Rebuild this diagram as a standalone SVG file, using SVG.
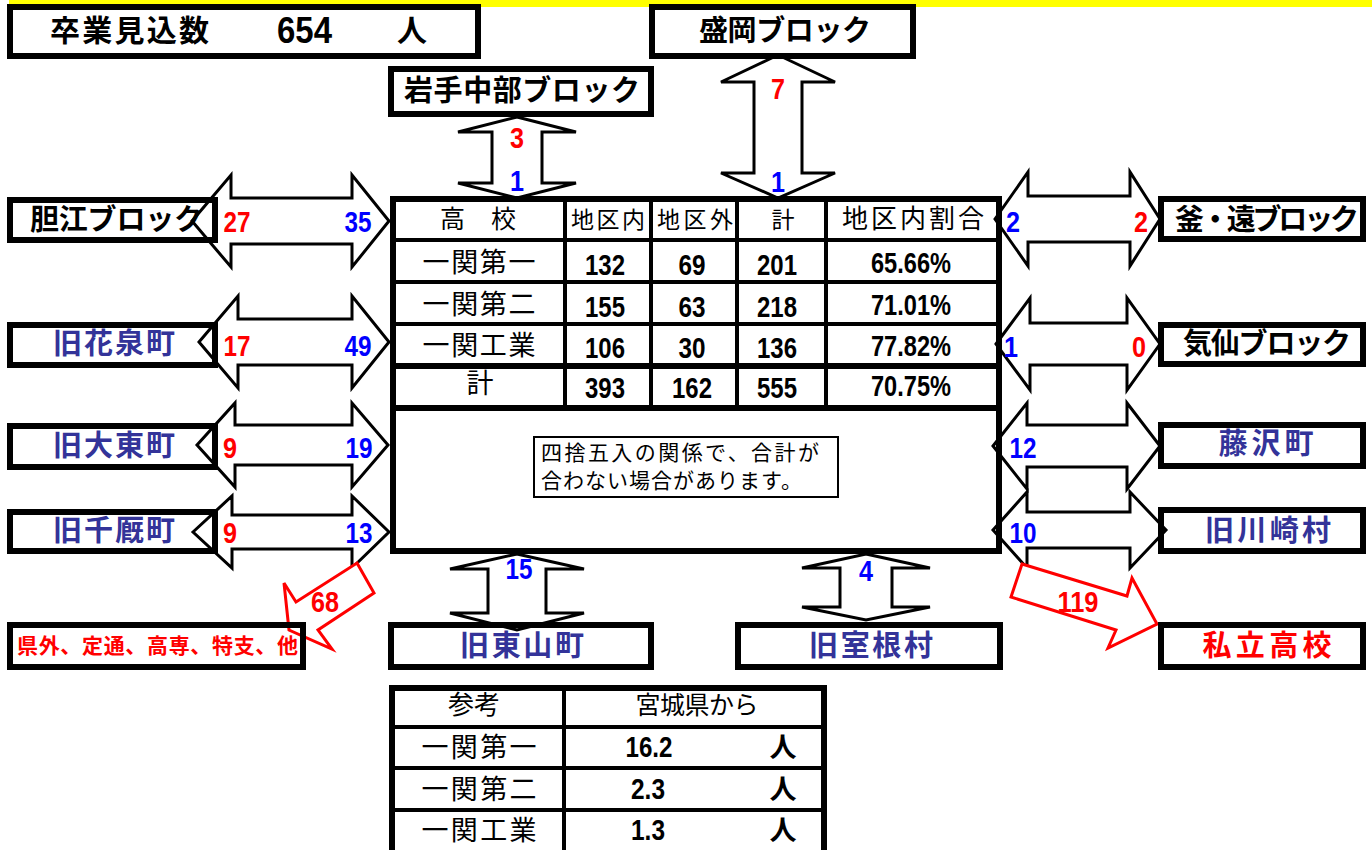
<svg xmlns="http://www.w3.org/2000/svg" width="1372" height="850" viewBox="0 0 1372 850">
<style>
.box{fill:none;stroke:#000;stroke-width:6}
.arrow{fill:#fff;stroke:#000;stroke-width:3;stroke-linejoin:miter}
.rarrow{fill:#fff;stroke:#f00;stroke-width:3;stroke-linejoin:miter}
.ln{stroke:#000;stroke-width:4}
.lnb{stroke:#000;stroke-width:6}
.lb{font-family:"Noto Sans CJK JP",sans-serif;font-weight:bold;text-anchor:middle}
.jp{font-family:"Noto Sans CJK JP",sans-serif;font-weight:normal;text-anchor:middle}
.num{font-family:"Liberation Sans Narrow","Liberation Sans",sans-serif;font-weight:bold;text-anchor:middle}
.n30{font-size:30px}
.n29{font-size:29px}
.red{fill:#f00}
.blue{fill:#00f}
.navy{fill:#333399}
.blk{fill:#000}
</style>
<rect x="0" y="0" width="1372" height="850" fill="#fff"/>
<rect x="9" y="0" width="1363" height="7" fill="#ffff00"/>

<g id="connectors">
  <polygon class="arrow" points="192,221 231,175 231,198 352,198 352,175 389,221 352,267 352,244 231,244 231,267"/>
  <polygon class="arrow" points="199,342 238,296 238,319 352,319 352,296 389,342 352,388 352,365 238,365 238,388"/>
  <polygon class="arrow" points="197,445 235,403 235,425 352,425 352,403 388,445 352,487 352,465 235,465 235,487"/>
  <polygon class="arrow" points="193,532 232,496 232,515 352,515 352,496 389,532 352,568 352,549 232,549 232,568"/>
  <polygon class="arrow" points="995,219 1028,172 1028,196 1130,196 1130,172 1160,219 1130,266 1130,242 1028,242 1028,266"/>
  <polygon class="arrow" points="996,344 1030,298 1030,323 1127,323 1127,298 1160,344 1127,390 1127,365 1030,365 1030,390"/>
  <polygon class="arrow" points="993,446 1027,403 1027,425 1127,425 1127,403 1160,446 1127,489 1127,467 1027,467 1027,489"/>
  <polygon class="arrow" points="993,530 1027,492 1027,512 1130,512 1130,492 1166,530 1130,568 1130,548 1027,548 1027,568"/>
  <polygon class="arrow" points="517,117 576,132 542,132 542,183 576,183 517,198 458,183 492,183 492,132 458,132"/>
  <polygon class="arrow" points="778,55 835,82 802,82 802,173 835,173 778,198 721,173 754,173 754,82 721,82"/>
  <polygon class="arrow" points="517,554 584,569 546,569 546,613 584,613 517,630 450,613 488,613 488,569 450,569"/>
  <polygon class="arrow" points="866,554 930,568 892,568 892,607 930,607 866,620 802,607 840,607 840,568 802,568"/>
  <polygon class="rarrow" points="357,563 374,593 318,630 332,649 289,630 284,583 296,602"/>
  <polygon class="rarrow" points="1022,564 1127,596 1132,578 1157,624 1108,648 1116,630 1011,597"/>

  <text class="num n30 red" x="517" y="148" textLength="14" lengthAdjust="spacingAndGlyphs">3</text>
  <text class="num n30 blue" x="517" y="191" textLength="14" lengthAdjust="spacingAndGlyphs">1</text>
  <text class="num n30 red" x="778" y="99" textLength="14" lengthAdjust="spacingAndGlyphs">7</text>
  <text class="num n30 blue" x="778" y="192" textLength="14" lengthAdjust="spacingAndGlyphs">1</text>
  <text class="num n30 red" x="237" y="232" textLength="27" lengthAdjust="spacingAndGlyphs">27</text>
  <text class="num n30 blue" x="358" y="232" textLength="27" lengthAdjust="spacingAndGlyphs">35</text>
  <text class="num n30 red" x="237" y="356" textLength="27" lengthAdjust="spacingAndGlyphs">17</text>
  <text class="num n30 blue" x="358" y="356" textLength="27" lengthAdjust="spacingAndGlyphs">49</text>
  <text class="num n30 red" x="230" y="458" textLength="14" lengthAdjust="spacingAndGlyphs">9</text>
  <text class="num n30 blue" x="359" y="458" textLength="27" lengthAdjust="spacingAndGlyphs">19</text>
  <text class="num n30 red" x="230" y="543" textLength="14" lengthAdjust="spacingAndGlyphs">9</text>
  <text class="num n30 blue" x="359" y="543" textLength="27" lengthAdjust="spacingAndGlyphs">13</text>
  <text class="num n30 red" x="325" y="612" textLength="28" lengthAdjust="spacingAndGlyphs">68</text>
  <text class="num n30 blue" x="1013" y="232" textLength="14" lengthAdjust="spacingAndGlyphs">2</text>
  <text class="num n30 red" x="1141" y="232" textLength="14" lengthAdjust="spacingAndGlyphs">2</text>
  <text class="num n30 blue" x="1011" y="357" textLength="14" lengthAdjust="spacingAndGlyphs">1</text>
  <text class="num n30 red" x="1139" y="357" textLength="14" lengthAdjust="spacingAndGlyphs">0</text>
  <text class="num n30 blue" x="1023" y="458" textLength="27" lengthAdjust="spacingAndGlyphs">12</text>
  <text class="num n30 blue" x="1023" y="543" textLength="27" lengthAdjust="spacingAndGlyphs">10</text>
  <text class="num n30 red" x="1078" y="612" textLength="41" lengthAdjust="spacingAndGlyphs">119</text>
  <text class="num n30 blue" x="519" y="579" textLength="27" lengthAdjust="spacingAndGlyphs">15</text>
  <text class="num n30 blue" x="866" y="581" textLength="14" lengthAdjust="spacingAndGlyphs">4</text>
</g>

<g id="node-total">
  <rect x="10" y="7" width="468" height="49" fill="#fff" stroke="#000" stroke-width="6"/>
  <text class="lb" x="129.5" y="41" style="font-size:30px" textLength="159">卒業見込数</text>
  <text class="num" x="304.5" y="43" style="font-size:37px" textLength="55" lengthAdjust="spacingAndGlyphs">654</text>
  <text class="lb" x="412" y="41" style="font-size:30px">人</text>
</g>

<g id="node-morioka">
  <rect x="652" y="7" width="261" height="49" fill="#fff" stroke="#000" stroke-width="6"/>
  <text class="lb blk" x="785" y="41" style="font-size:29px" textLength="172">盛岡ブロック</text>
</g>

<g id="node-iwate-chubu">
  <rect class="box" x="391" y="69" width="260" height="45"/>
  <text class="lb blk" x="522" y="101" style="font-size:29px" textLength="236">岩手中部ブロック</text>
</g>

<g id="node-tanko">
  <rect class="box" x="10" y="200" width="205" height="40"/>
  <text class="lb blk" x="116.5" y="230" style="font-size:29px" textLength="173">胆江ブロック</text>
</g>
<g id="node-hanaizumi">
  <rect class="box" x="10" y="325" width="205" height="40"/>
  <text class="lb navy" x="114" y="354" style="font-size:29px" textLength="122">旧花泉町</text>
</g>
<g id="node-daito">
  <rect class="box" x="10" y="426" width="205" height="41"/>
  <text class="lb navy" x="114" y="456" style="font-size:29px" textLength="122">旧大東町</text>
</g>
<g id="node-senmaya">
  <rect class="box" x="10" y="512" width="205" height="39"/>
  <text class="lb navy" x="114" y="541" style="font-size:29px" textLength="122">旧千厩町</text>
</g>
<g id="node-kengai">
  <rect class="box" x="10" y="625" width="293" height="42"/>
  <text class="lb red" x="157.5" y="653" style="font-size:21px" textLength="281">県外、定通、高専、特支、他</text>
</g>

<g id="node-higashiyama">
  <rect class="box" x="391" y="625" width="260" height="42"/>
  <text class="lb navy" x="522" y="656" style="font-size:29px" textLength="124">旧東山町</text>
</g>
<g id="node-murone">
  <rect class="box" x="738" y="625" width="262" height="42"/>
  <text class="lb navy" x="871" y="656" style="font-size:29px" textLength="124">旧室根村</text>
</g>

<g id="node-kamato">
  <rect class="box" x="1161" y="199" width="202" height="40"/>
  <text class="lb blk" x="1267" y="230" style="font-size:29px" textLength="184">釜・遠ブロック</text>
</g>
<g id="node-kesen">
  <rect class="box" x="1161" y="325" width="202" height="39"/>
  <text class="lb blk" x="1267" y="354" style="font-size:29px" textLength="168">気仙ブロック</text>
</g>
<g id="node-fujisawa">
  <rect class="box" x="1161" y="425" width="202" height="41"/>
  <text class="lb navy" x="1266" y="454" style="font-size:29px" textLength="95">藤沢町</text>
</g>
<g id="node-kawasaki">
  <rect class="box" x="1161" y="510" width="202" height="41"/>
  <text class="lb navy" x="1268" y="541" style="font-size:29px" textLength="126">旧川崎村</text>
</g>
<g id="node-private">
  <rect class="box" x="1161" y="625" width="202" height="42"/>
  <text class="lb red" x="1267" y="656" style="font-size:29px" textLength="129">私立高校</text>
</g>

<g id="node-table">
  <rect class="box" x="393" y="199" width="606" height="352"/>
  <line class="ln" x1="393" y1="240" x2="999" y2="240"/>
  <line class="ln" x1="393" y1="282" x2="999" y2="282"/>
  <line class="ln" x1="393" y1="324" x2="999" y2="324"/>
  <line class="lnb" x1="393" y1="366" x2="999" y2="366"/>
  <line class="lnb" x1="393" y1="408" x2="999" y2="408"/>
  <line class="ln" x1="565" y1="199" x2="565" y2="408"/>
  <line class="ln" x1="651" y1="199" x2="651" y2="408"/>
  <line class="ln" x1="737" y1="199" x2="737" y2="408"/>
  <line class="ln" x1="826" y1="199" x2="826" y2="408"/>
  <text class="jp" x="478" y="228" font-size="25" textLength="76">高　校</text>
  <text class="jp" x="608" y="228" font-size="23" textLength="74">地区内</text>
  <text class="jp" x="695" y="228" font-size="23" textLength="76">地区外</text>
  <text class="jp" x="783" y="228" font-size="23">計</text>
  <text class="jp" x="913" y="228" font-size="26" textLength="142">地区内割合</text>

  <text class="jp" x="479" y="272" font-size="27" textLength="113">一関第一</text>
  <text class="num n29" x="605" y="275" textLength="40" lengthAdjust="spacingAndGlyphs">132</text>
  <text class="num n29" x="692" y="275" textLength="27" lengthAdjust="spacingAndGlyphs">69</text>
  <text class="num n29" x="777" y="275" textLength="40" lengthAdjust="spacingAndGlyphs">201</text>
  <text class="num n29" x="911" y="273" textLength="80" lengthAdjust="spacingAndGlyphs">65.66%</text>

  <text class="jp" x="479" y="314" font-size="27" textLength="113">一関第二</text>
  <text class="num n29" x="605" y="317" textLength="40" lengthAdjust="spacingAndGlyphs">155</text>
  <text class="num n29" x="692" y="317" textLength="27" lengthAdjust="spacingAndGlyphs">63</text>
  <text class="num n29" x="777" y="317" textLength="40" lengthAdjust="spacingAndGlyphs">218</text>
  <text class="num n29" x="911" y="315" textLength="80" lengthAdjust="spacingAndGlyphs">71.01%</text>

  <text class="jp" x="479" y="355" font-size="27" textLength="113">一関工業</text>
  <text class="num n29" x="605" y="358" textLength="40" lengthAdjust="spacingAndGlyphs">106</text>
  <text class="num n29" x="692" y="358" textLength="27" lengthAdjust="spacingAndGlyphs">30</text>
  <text class="num n29" x="777" y="358" textLength="40" lengthAdjust="spacingAndGlyphs">136</text>
  <text class="num n29" x="911" y="356" textLength="80" lengthAdjust="spacingAndGlyphs">77.82%</text>

  <text class="jp" x="480" y="393" font-size="27">計</text>
  <text class="num n29" x="605" y="398" textLength="40" lengthAdjust="spacingAndGlyphs">393</text>
  <text class="num n29" x="692" y="398" textLength="40" lengthAdjust="spacingAndGlyphs">162</text>
  <text class="num n29" x="777" y="398" textLength="40" lengthAdjust="spacingAndGlyphs">555</text>
  <text class="num n29" x="911" y="396" textLength="80" lengthAdjust="spacingAndGlyphs">70.75%</text>

  <rect x="534" y="437" width="304" height="60" fill="#fff" stroke="#000" stroke-width="2"/>
  <text class="jp" x="541" y="460" font-size="21" style="text-anchor:start" textLength="278">四捨五入の関係で、合計が</text>
  <text class="jp" x="541" y="488" font-size="21" style="text-anchor:start" textLength="261">合わない場合があります。</text>
</g>

<g id="node-reference">
  <line class="lnb" x1="392" y1="688" x2="825" y2="688"/>
  <line class="lnb" x1="392" y1="685" x2="392" y2="850"/>
  <line class="lnb" x1="824" y1="685" x2="824" y2="850"/>
  <line class="ln" x1="564" y1="688" x2="564" y2="850"/>
  <line class="ln" x1="392" y1="727" x2="824" y2="727"/>
  <line class="ln" x1="392" y1="768" x2="824" y2="768"/>
  <line class="ln" x1="392" y1="810" x2="824" y2="810"/>
  <text class="jp" x="474" y="714" font-size="26">参考</text>
  <text class="jp" x="697" y="714" font-size="25" textLength="123">宮城県から</text>
  <text class="jp" x="479" y="757" font-size="27" textLength="115">一関第一</text>
  <text class="num n29" x="649" y="757" textLength="47" lengthAdjust="spacingAndGlyphs">16.2</text>
  <text class="lb" x="783" y="757" style="font-size:27px">人</text>
  <text class="jp" x="479" y="799" font-size="27" textLength="115">一関第二</text>
  <text class="num n29" x="648" y="799" textLength="34" lengthAdjust="spacingAndGlyphs">2.3</text>
  <text class="lb" x="783" y="799" style="font-size:27px">人</text>
  <text class="jp" x="479" y="840" font-size="27" textLength="115">一関工業</text>
  <text class="num n29" x="648" y="840" textLength="34" lengthAdjust="spacingAndGlyphs">1.3</text>
  <text class="lb" x="783" y="840" style="font-size:27px">人</text>
</g>
</svg>
